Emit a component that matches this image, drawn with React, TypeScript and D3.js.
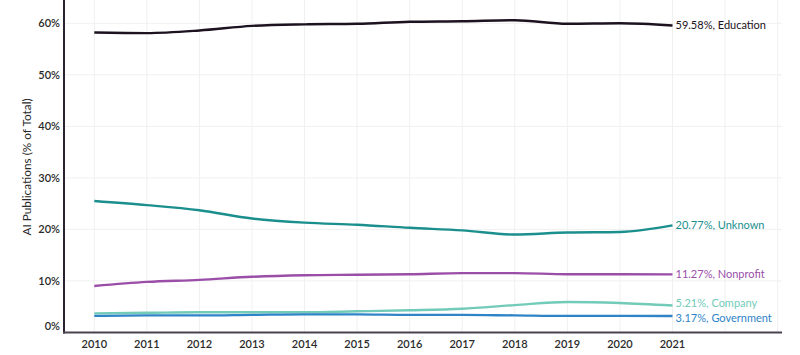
import React from "react";
import * as d3 from "d3";

const years = [2010, 2011, 2012, 2013, 2014, 2015, 2016, 2017, 2018, 2019, 2020, 2021];
const education = [58.2, 58.1, 58.6, 59.5, 59.8, 59.9, 60.3, 60.4, 60.6, 59.9, 60.0, 59.58];
const unknown = [25.5, 24.7, 23.7, 22.1, 21.3, 20.9, 20.3, 19.8, 19.0, 19.4, 19.5, 20.77];
const nonprofit = [9.0, 9.8, 10.2, 10.8, 11.1, 11.2, 11.3, 11.5, 11.5, 11.3, 11.3, 11.27];
const company = [3.7, 3.8, 3.9, 3.9, 3.9, 4.1, 4.3, 4.6, 5.3, 5.9, 5.7, 5.21];
const government = [3.2, 3.3, 3.3, 3.4, 3.5, 3.5, 3.4, 3.4, 3.3, 3.2, 3.2, 3.17];
const seriesNames = ["Education", "Unknown", "Nonprofit", "Company", "Government"];
const seriesColors = ["#1c1220", "#1a8f8e", "#9a4ea8", "#72cbb8", "#2f84c8"];
const yTicks = [0, 10, 20, 30, 40, 50, 60];
const gridYears = [2010, 2011, 2012, 2013, 2014, 2015, 2016, 2017, 2018, 2019, 2020, 2021, 2022, 2023];

export default function App() {
  const W = 800, H = 355;
  const left = 64, right = 782, top = 0, bottom = 332.5;
  const x = d3.scaleLinear().domain([2010, 2021]).range([94.3, 672.5]);
  const y = d3.scaleLinear().domain([0, 60]).range([332.4, 23.3]);
  const data = [education, unknown, nonprofit, company, government];
  const labelNudge = [0, 0, 0, -2.5, 2];
  const line = d3.line<number>().x((_, i) => x(years[i])).y((d) => y(d)).curve(d3.curveMonotoneX);
  const font = "Lato, 'Open Sans', sans-serif";
  return (
    <svg width={W} height={H} style={{ position: "absolute", left: 0, top: 0, background: "#fff" }}>
      {yTicks.map((t) => (
        <line key={"gy" + t} x1={left} x2={right} y1={y(t)} y2={y(t)} stroke="#f0f0f0" strokeWidth={1} />
      ))}
      {gridYears.map((yr) => (
        <line key={"gx" + yr} x1={x(yr)} x2={x(yr)} y1={top} y2={bottom} stroke="#f0f0f0" strokeWidth={1} />
      ))}
      {data.map((s, i) => (
        <path key={seriesNames[i]} d={line(s) || ""} fill="none" stroke={seriesColors[i]} strokeWidth={2.4} />
      ))}
      <line x1={left} x2={left} y1={top} y2={bottom + 1} stroke="#2a2230" strokeWidth={2} />
      <line x1={left - 1} x2={right} y1={bottom} y2={bottom} stroke="#4a4250" strokeWidth={2} />
      {yTicks.map((t) => (
        <text key={"yl" + t} x={60} y={t === 0 ? y(t) - 6 : y(t)} dy="0.35em" textAnchor="end"
          fontFamily={font} fontSize={11} fontWeight={600} fill="#2a2a2a">{t}%</text>
      ))}
      {years.map((yr) => (
        <text key={"xl" + yr} x={x(yr)} y={348} textAnchor="middle"
          fontFamily={font} fontSize={11} fontWeight={600} fill="#2a2a2a">{yr}</text>
      ))}
      <text transform={`translate(31,167) rotate(-90)`} textAnchor="middle"
        fontFamily={font} fontSize={11.8} fill="#2a2a2a">AI Publications (% of Total)</text>
      {data.map((s, i) => (
        <text key={"lab" + i} x={x(2021) + 3} y={y(s[s.length - 1]) + labelNudge[i]} dy="0.35em"
          fontFamily={font} fontSize={11} fill={seriesColors[i]}>
          {s[s.length - 1].toFixed(2)}%, {seriesNames[i]}
        </text>
      ))}
    </svg>
  );
}
